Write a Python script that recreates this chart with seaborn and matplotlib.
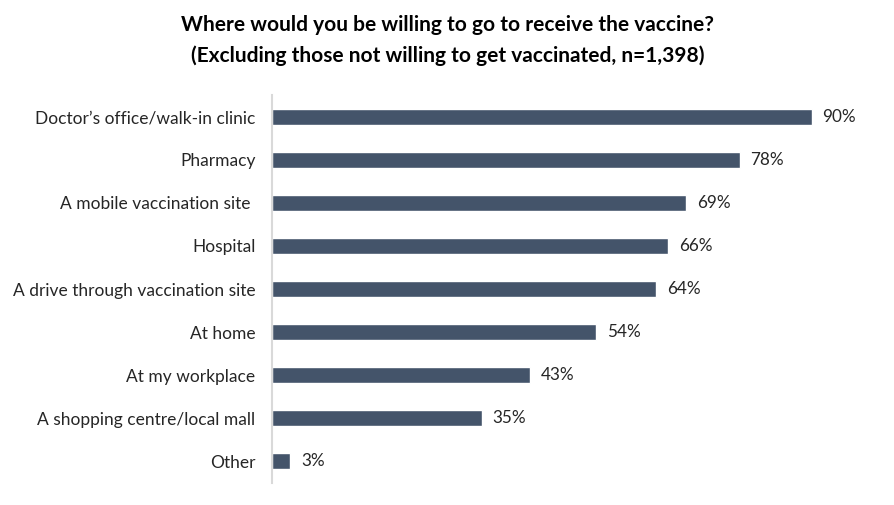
import matplotlib
matplotlib.use("Agg")
import matplotlib.pyplot as plt
import seaborn as sns
import pandas as pd

categories = [
    "Doctor\u2019s office/walk-in clinic",
    "Pharmacy",
    "A mobile vaccination site ",
    "Hospital",
    "A drive through vaccination site",
    "At home",
    "At my workplace",
    "A shopping centre/local mall",
    "Other",
]
values = [90, 78, 69, 66, 64, 54, 43, 35, 3]
labels = [f"{v}%" for v in values]

bar_color = "#44546A"

sns.set_theme(style="white")
plt.rcParams["font.family"] = ["Lato", "DejaVu Sans"]

df = pd.DataFrame({"place": categories, "pct": values})

fig = plt.figure(figsize=(8.95, 5.05), dpi=100)
ax = fig.add_axes([0.304, 0.0436, 0.67, 0.768])
sns.barplot(data=df, x="pct", y="place", color=bar_color, saturation=1,
            width=0.37, ax=ax)

for i, (v, lab) in enumerate(zip(values, labels)):
    ax.text(v + 1.8, i, lab, va="center", ha="left", fontsize=12.3, color="#262626")

ax.set_xlim(0, 100)
ax.set_ylim(8.5, -0.5)
ax.set_xlabel("")
ax.set_ylabel("")
ax.set_xticks([])
ax.tick_params(axis="y", length=0, pad=12, labelsize=12.5, labelcolor="#262626")
for s in ["top", "right", "bottom"]:
    ax.spines[s].set_visible(False)
ax.spines["left"].set_color("#D9D9D9")
ax.spines["left"].set_linewidth(1.5)

fig.text(0.5, 0.92, "Where would you be willing to go to receive the vaccine?\n"
         "(Excluding those not willing to get vaccinated, n=1,398)",
         ha="center", va="center", fontsize=15, fontweight="bold",
         linespacing=1.6, color="black")

fig.savefig("out.png", dpi=100)
